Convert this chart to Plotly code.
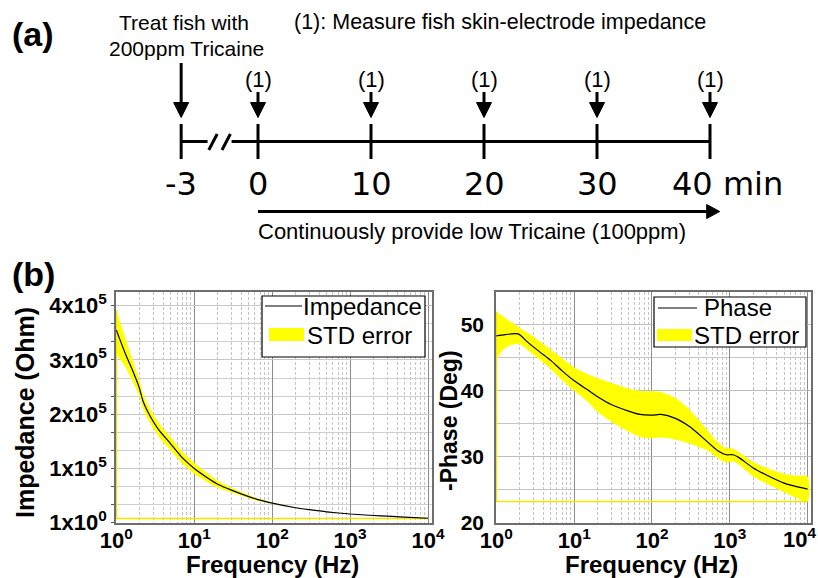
import plotly.graph_objects as go

# ---------------- data ----------------
imp_freq = [1, 1.3, 1.6, 1.9, 2.0, 2.2, 2.5, 3.5, 5, 7, 10, 15, 20, 30, 50, 70, 100,
            200, 300, 500, 1000, 2000, 3000, 5000, 10000]
imp_mean = [355000, 312000, 282000, 255000, 245000, 224000, 206000, 171000, 145000, 120000,
            100000, 82000, 71000, 60000, 48000, 41500, 36000, 27500, 24000, 20000, 16000,
            13300, 12000, 10300, 8200]
imp_upper = [392000, 340000, 302000, 270000, 260000, 238000, 219000, 184000, 157000, 131000,
             110000, 90000, 77500, 64500, 51000, 43500, 37000, 28000, 24300, 20200, 16150,
             13400, 12100, 10400, 8300]
imp_lower = [312000, 287000, 262000, 238000, 230000, 210000, 192000, 158000, 133000, 109000,
             90000, 74000, 64500, 55500, 45000, 39500, 35000, 27000, 23700, 19800, 15850,
             13200, 11900, 10200, 7600]

ph_freq = [1, 1.3, 1.9, 2.5, 3.5, 5, 7, 10, 15, 20, 30, 50, 70, 100, 130, 200, 300, 500,
           700, 900, 1100, 1300, 2000, 3000, 5000, 7000, 10000]
ph_mean = [48.3, 48.5, 48.6, 47.4, 46.0, 44.6, 43.0, 41.5, 40.1, 39.1, 37.9, 36.9, 36.4, 36.3,
           36.4, 35.8, 34.6, 32.4, 30.9, 30.3, 30.3, 29.9, 28.3, 27.2, 26.0, 25.5, 25.1]
ph_upper = [52.0, 51.0, 49.7, 48.8, 47.6, 46.2, 44.9, 43.5, 42.5, 41.9, 41.2, 40.3, 40.0, 39.9,
            39.8, 38.9, 37.2, 34.2, 32.2, 31.3, 31.2, 30.7, 29.2, 28.3, 27.4, 27.1, 27.0]
ph_lower = [44.7, 46.5, 47.1, 46.2, 44.8, 43.3, 41.6, 40.0, 38.3, 36.8, 35.3, 33.8, 33.0, 32.8,
            32.9, 32.6, 32.0, 31.0, 29.8, 29.1, 29.3, 28.8, 27.0, 25.9, 24.6, 23.8, 23.2]

imp_ticks = [1, 100000, 200000, 300000, 400000]
imp_ticktext = ["1x10<sup>0</sup>", "1x10<sup>5</sup>", "2x10<sup>5</sup>",
                "3x10<sup>5</sup>", "4x10<sup>5</sup>"]
ph_ticks = [20, 30, 40, 50]
f_ticks = [1, 10, 100, 1000, 10000]
f_ticktext = ["10<sup>0</sup>", "10<sup>1</sup>", "10<sup>2</sup>", "10<sup>3</sup>", "10<sup>4</sup>"]

times = [-3, 0, 10, 20, 30, 40]
time_labels = ["-3", "0", "10", "20", "30", "40 min"]
legend_left = ["Impedance", "STD error"]
legend_right = ["Phase", "STD error"]

# ---------------- layout constants ----------------
W, H = 818, 578
def px(v): return v / W
def py(v): return 1 - v / H

ARIAL = "Liberation Sans"
YEL = "#ffff00"

T0_PX, PX_PER_MIN = 258, 11.3
PRE_DISPLAY = -6.8     # where the "-3" is drawn (axis break)
disp = [PRE_DISPLAY if t < 0 else t for t in times]
def mpx(p): return p / PX_PER_MIN

fig = go.Figure()

# ---------- impedance panel ----------
fig.add_trace(go.Scatter(
    x=imp_freq + imp_freq[::-1], y=imp_upper + imp_lower[::-1],
    fill="toself", fillcolor=YEL, mode="lines", line=dict(width=0, color=YEL, shape="spline", smoothing=0.6),
    name="STD error", showlegend=False, xaxis="x", yaxis="y", hoverinfo="skip"))
fig.add_trace(go.Scatter(
    x=[imp_freq[-1], imp_freq[0], imp_freq[0]], y=[imp_lower[-1], imp_lower[-1], imp_upper[0]],
    mode="lines", line=dict(width=1.5, color="#f2e600"), showlegend=False, xaxis="x", yaxis="y"))
fig.add_trace(go.Scatter(
    x=imp_freq, y=imp_mean, mode="lines", line=dict(width=1.2, color="black", shape="spline", smoothing=0.6),
    name="Impedance", showlegend=False, xaxis="x", yaxis="y"))

# ---------- phase panel ----------
fig.add_trace(go.Scatter(
    x=ph_freq + ph_freq[::-1], y=ph_upper + ph_lower[::-1],
    fill="toself", fillcolor=YEL, mode="lines", line=dict(width=0, color=YEL, shape="spline", smoothing=0.8),
    name="STD error", showlegend=False, xaxis="x2", yaxis="y2", hoverinfo="skip"))
fig.add_trace(go.Scatter(
    x=[ph_freq[-1], ph_freq[0], ph_freq[0]], y=[ph_lower[-1], ph_lower[-1], ph_upper[0]],
    mode="lines", line=dict(width=1.5, color="#f2e600"), showlegend=False, xaxis="x2", yaxis="y2"))
fig.add_trace(go.Scatter(
    x=ph_freq, y=ph_mean, mode="lines", line=dict(width=1.2, color="black", shape="spline", smoothing=0.8),
    name="Phase", showlegend=False, xaxis="x2", yaxis="y2"))

# ---------- diagram (panel a) ----------
Y_LINE, Y_TICK0, Y_TICK1 = 141.5, 124, 159
Y_TIP, HEAD_LEN, HEAD_HW = 117.5, 15, 7.5
Y_TOP_LONG, Y_TOP_SHORT = 63, 92
BRK = (disp[0] + disp[1]) / 2
brk_gap = mpx(12)
lx, ly = [], []
lx += [disp[0], BRK - brk_gap, None, BRK + brk_gap, disp[-1], None]
ly += [Y_LINE, Y_LINE, None, Y_LINE, Y_LINE, None]
for off in (-mpx(6.6), mpx(6.6)):
    lx += [BRK + off - mpx(4.2), BRK + off + mpx(4.2), None]
    ly += [150, 134, None]
for i, d in enumerate(disp):
    lx += [d, d, None]
    ly += [Y_TICK0, Y_TICK1, None]
    top = Y_TOP_LONG if times[i] < 0 else Y_TOP_SHORT
    lx += [d, d, None]
    ly += [top, Y_TIP - HEAD_LEN + 2, None]
Y_ARR = 211.5
ARR_END = disp[-1] + mpx(9.7)
lx += [disp[1], ARR_END - mpx(12), None]
ly += [Y_ARR, Y_ARR, None]
fig.add_trace(go.Scatter(x=lx, y=ly, mode="lines", line=dict(color="black", width=3),
                         showlegend=False, xaxis="x3", yaxis="y3", hoverinfo="skip"))
hx, hy = [], []
for d in disp:
    hx += [d - mpx(HEAD_HW), d + mpx(HEAD_HW), d, d - mpx(HEAD_HW), None]
    hy += [Y_TIP - HEAD_LEN, Y_TIP - HEAD_LEN, Y_TIP, Y_TIP - HEAD_LEN, None]
hx += [ARR_END - mpx(13), ARR_END - mpx(13), ARR_END, ARR_END - mpx(13), None]
hy += [Y_ARR - 7, Y_ARR + 7, Y_ARR, Y_ARR - 7, None]
fig.add_trace(go.Scatter(x=hx, y=hy, mode="lines", fill="toself", fillcolor="black",
                         line=dict(color="black", width=1), showlegend=False,
                         xaxis="x3", yaxis="y3", hoverinfo="skip"))

ann = []
def A(text, x, y, size, xref="paper", yref="paper", bold=False, family=ARIAL, xanchor="center",
      textangle=0):
    ann.append(dict(text=text, x=x, y=y, xref=xref, yref=yref, showarrow=False,
                    xanchor=xanchor, yanchor="middle", textangle=textangle,
                    font=dict(family=family, size=size, color="black",
                              weight="bold" if bold else "normal")))

A("(a)", px(33), py(34), 34, bold=True)
A("(b)", px(33), py(274), 34, bold=True)
A("Treat fish with", px(184), py(22), 21)
A("200ppm Tricaine", px(186), py(49), 21)
A("(1): Measure fish skin-electrode impedance", px(500), py(22), 21.5)
A("Continuously provide low Tricaine (100ppm)", px(472), py(231), 22)
for t, d, lab in zip(times, disp, time_labels):
    if t == times[-1]:
        A(lab, d - mpx(40), 184, 32, xref="x3", yref="y3", family="DejaVu Sans", xanchor="left")
    else:
        A(lab, d, 184, 32, xref="x3", yref="y3", family="DejaVu Sans")
    if t >= 0:
        A("(1)", d, 79, 22, xref="x3", yref="y3")

# axis titles
A("Frequency (Hz)", px(272), py(564), 24, bold=True)
A("Frequency (Hz)", px(651), py(564), 24, bold=True)
A("Impedance (Ohm)", px(25), py(413), 25, bold=True, textangle=-90)
A("-Phase (Deg)", px(449), py(421), 23, bold=True, textangle=-90)
# last frequency label of the right panel, pulled inside the figure edge
A(f_ticktext[-1], px(799), py(538), 22, bold=True)

# ---------- legends (boxes drawn in figure pixels) ----------
shapes = []
def legend_box(x0, y0, x1, y1, line_x0, line_x1, line_y, sw_x0, sw_x1, sw_y0, sw_y1,
               labels, tx1, ty1, tx2, ty2):
    shapes.append(dict(type="rect", xref="paper", yref="paper", x0=px(x0), x1=px(x1),
                       y0=py(y1), y1=py(y0), fillcolor="white",
                       line=dict(color="black", width=1.2), layer="above"))
    shapes.append(dict(type="line", xref="paper", yref="paper", x0=px(line_x0), x1=px(line_x1),
                       y0=py(line_y), y1=py(line_y), line=dict(color="black", width=1.2),
                       layer="above"))
    shapes.append(dict(type="rect", xref="paper", yref="paper", x0=px(sw_x0), x1=px(sw_x1),
                       y0=py(sw_y1), y1=py(sw_y0), fillcolor=YEL, line=dict(width=0),
                       layer="above"))
    A(labels[0], px(tx1), py(ty1), 24, xanchor="left")
    A(labels[1], px(tx2), py(ty2), 24, xanchor="left")

legend_box(262, 296, 425, 357, 265, 302, 306, 269, 304, 328, 341,
           legend_left, 301, 306, 305, 335)
legend_box(654, 297, 806, 347, 658, 697, 308, 657, 692, 329, 341,
           legend_right, 702, 308, 692, 335)

tickfont = dict(family=ARIAL, size=22, color="black", weight="bold")
frame = dict(showline=True, linecolor="#6e6e6e", linewidth=1.5, mirror=True, zeroline=False,
             automargin=False)
def xaxis_style(texts):
    return dict(type="log", tickvals=f_ticks, ticktext=texts, tickfont=tickfont,
                showgrid=True, gridcolor="#8c8c8c", gridwidth=1, ticks="", ticklabelstandoff=-3,
                minor=dict(dtick="D1", showgrid=True, gridcolor="#c4c4c4", griddash="3px,2px", ticks=""),
                **frame)

y_dom = [py(522.7), py(291.7)]
fig.update_layout(
    width=W, height=H, margin=dict(l=0, r=0, t=0, b=0, autoexpand=False),
    paper_bgcolor="white", plot_bgcolor="white", showlegend=False,
    xaxis=dict(domain=[px(116), px(431.7)], range=[-0.005, 4.047], anchor="y", **xaxis_style(f_ticktext)),
    yaxis=dict(domain=y_dom, range=[0, 425800], anchor="x", tickvals=imp_ticks, ticktext=imp_ticktext,
               tickfont=tickfont, showgrid=True, gridcolor="#c8c8c8", ticks="outside", ticklen=3,
               tickcolor="#555", minor=dict(tick0=0, dtick=100000 / 3, showgrid=True, gridcolor="#cfcfcf",
                                            ticks="outside", ticklen=3, tickcolor="#555"), **frame),
    xaxis2=dict(domain=[px(496), px(810.7)], range=[-0.005, 4.04], anchor="y2",
                **xaxis_style(f_ticktext[:-1] + [""])),
    yaxis2=dict(domain=y_dom, range=[20, 55], anchor="x2", tickvals=ph_ticks,
                tickfont=dict(tickfont, size=21), showgrid=True, gridcolor="#bdbdbd", ticks="",
                ticklabelstandoff=6, minor=dict(dtick=5, showgrid=True, gridcolor="#c4c4c4"), **frame),
    xaxis3=dict(domain=[0, 1], range=[-T0_PX / PX_PER_MIN, (W - T0_PX) / PX_PER_MIN],
                anchor="y3", visible=False, fixedrange=True, automargin=False),
    yaxis3=dict(domain=[py(289), 1], range=[289, 0], anchor="x3", visible=False, fixedrange=True,
                automargin=False),
    shapes=shapes,
    annotations=ann,
)

fig.write_html("out.html")
